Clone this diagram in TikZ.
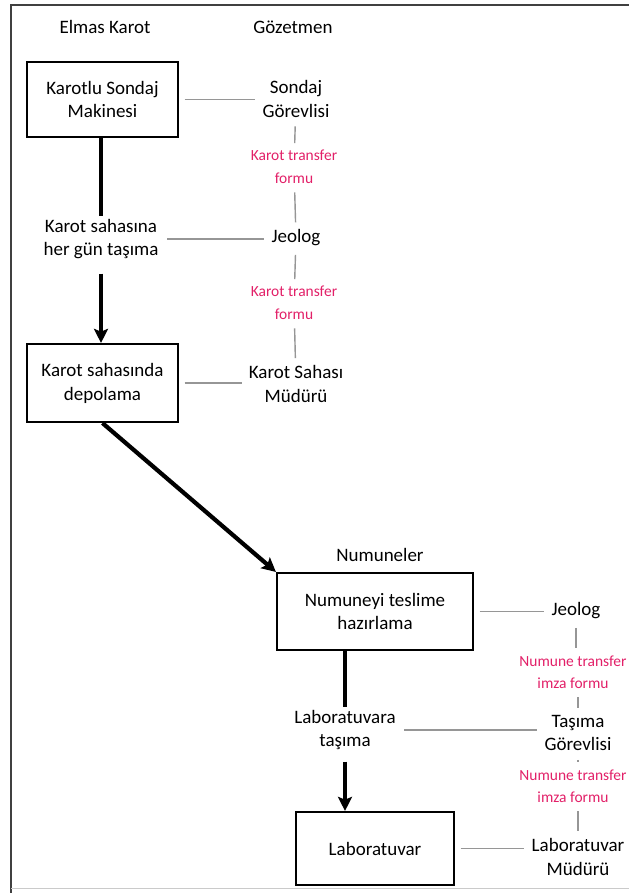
\documentclass[tikz,border=0pt]{standalone}
\usepackage{fontspec}
\setmainfont{Carlito}
\usetikzlibrary{arrows,arrows.meta,positioning,calc}
\definecolor{formpink}{RGB}{226,32,104}
\definecolor{linkgray}{RGB}{150,150,150}

\begin{document}
\begin{tikzpicture}[x=0.025cm,y=-0.025cm,every node/.style={align=center,inner sep=2pt,font=\fontsize{13.5}{17}\selectfont},>={Stealth[length=10pt,width=10pt,inset=2pt]},
  box/.style={draw,line width=1.5pt,minimum width=3.775cm,minimum height=1.9cm},
  form/.style={font=\fontsize{11}{16}\selectfont,text=formpink},
  link/.style={draw=linkgray,line width=1pt,shorten <=4pt,shorten >=3pt},
  flow/.style={line width=3pt}]
\useasboundingbox (0,0) rectangle (629,893);
\clip (0,0) rectangle (629,893);
% frame
\draw[line width=2pt,black!75] (629,5) -- (11,5) -- (11,893);
\draw[linkgray!50] (11,888) -- (629,888);
% column heads
\node (h1) at (105,27) {Elmas Karot};
\node (h2) at (293,27) {Gözetmen};
\node (h3) at (380,555) {Numuneler};
% elmas karot
\node[box,minimum height=1.875cm] (b1) at (102.5,99.5) {Karotlu Sondaj\\Makinesi};
\node (t1) at (101,239) {Karot sahasına\\her gün taşıma};
\node[box,minimum height=1.95cm] (b2) at (102.5,383) {Karot sahasında\\depolama};
% gozetmen
\node (g1) at (296,99) {Sondaj\\Görevlisi};
\node[form] (f1) at (294,167) {Karot transfer\\formu};
\node (g2) at (296,238) {Jeolog};
\node[form] (f2) at (294,303) {Karot transfer\\formu};
\node (g3) at (296,384) {Karot Sahası\\Müdürü};
% numuneler
\node[box,minimum width=4.9cm,minimum height=1.925cm] (b3) at (375,611.5) {Numuneyi teslime\\hazırlama};
\node (t2) at (345,730) {Laboratuvara\\taşıma};
\node[box,minimum width=3.95cm,minimum height=1.825cm] (b4) at (375,848.5) {Laboratuvar};
\node (g4) at (576,611) {Jeolog};
\node[form] (f3) at (573,672) {Numune transfer\\imza formu};
\node (g5) at (578,733) {Taşıma\\Görevlisi};
\node[form] (f4) at (573,786) {Numune transfer\\imza formu};
\node (g6) at (578,857) {Laboratuvar\\Müdürü};
% flow
\draw[flow] (b1.south -| t1) -- (t1);
\draw[flow,->,shorten <=8pt] (t1) -- (t1 |- b2.north);
\draw[flow,->] (b2.south) -- (b3.north west);
\draw[flow] (b3.south -| t2) -- (t2);
\draw[flow,->,shorten <=6pt] (t2) -- (t2 |- b4.north);
% links
\draw[link] (b1) -- (b1 -| g1.west);
\draw[link] (t1) -- (t1 -| g2.west);
\draw[link] (b2) -- (b2 -| g3.west);
\draw[link] (b3) -- (b3 -| g4.west);
\draw[link] (t2) -- (t2 -| g5.west);
\draw[link] (b4) -- (b4 -| g6.west);
\draw[link] (g1) -- (f1);
\draw[link] (f1) -- (g2);
\draw[link] (g2) -- (f2);
\draw[link] (f2) -- (g3);
\draw[link] (g4) -- (g4 |- f3.north);
\draw[link] (g5 |- f3.south) -- (g5);
\draw[link] (g5) -- (g5 |- f4.north);
\draw[link] (g6 |- f4.south) -- (g6);
\end{tikzpicture}
\end{document}
